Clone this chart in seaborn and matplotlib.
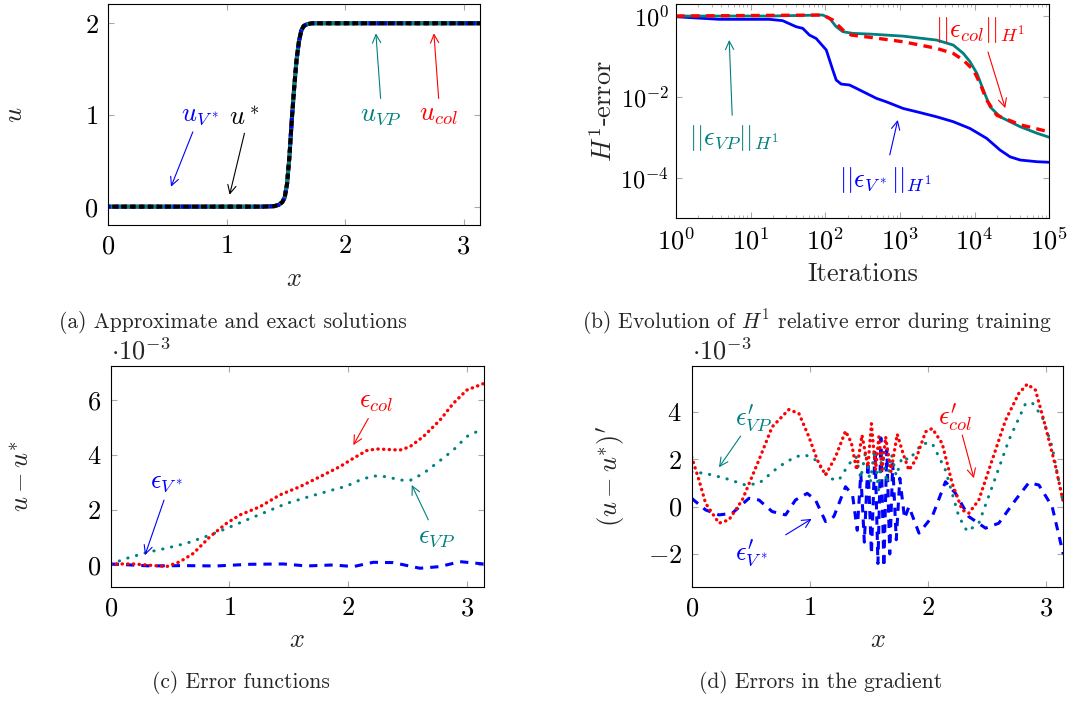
import matplotlib
matplotlib.use("Agg")
import matplotlib.pyplot as plt
import seaborn as sns

# (a) approximate and exact solutions
x_sol = [0.0, 1.30, 1.40, 1.44, 1.47, 1.49, 1.51, 1.53, 1.55, 1.57, 1.59, 1.61, 1.63, 1.65, 1.68, 1.72, 1.80, 3.1416]
u_exact = [0.0, 0.0, 0.005, 0.02, 0.05, 0.10, 0.25, 0.55, 0.95, 1.30, 1.60, 1.80, 1.92, 1.97, 1.99, 2.0, 2.0, 2.0]
u_col = list(u_exact)
u_vp = list(u_exact)
u_vstar = list(u_exact)

# (b) H1 relative error during training
it_vstar = [1, 3.8, 17.8, 26.8, 40.6, 49.9, 61.3, 75.4, 103, 126, 140, 163, 211, 260, 354, 483, 658,
            1100, 1845, 3090, 5170, 8670, 14500, 21900, 29900, 40700, 68300, 100000]
err_vstar = [0.96, 0.83, 0.83, 0.77, 0.546, 0.497, 0.34, 0.28, 0.146, 0.0468, 0.0265, 0.0211, 0.020,
             0.0166, 0.0125, 0.0094, 0.0077, 0.0053, 0.0042, 0.0033, 0.0025, 0.0017, 0.00097, 0.0005,
             0.00034, 0.000284, 0.000258, 0.00025]
it_vp = [1, 17.8, 92.6, 114, 140, 172, 234, 393, 1100, 3090, 5170, 7060, 8670, 10700, 13100, 16100,
         21900, 40700, 68300, 100000]
err_vp = [1.0, 1.0, 1.06, 0.877, 0.546, 0.411, 0.374, 0.36, 0.32, 0.256, 0.193, 0.12, 0.075, 0.039,
          0.015, 0.0058, 0.0033, 0.00188, 0.0013, 0.00103]
it_col = [1, 92.6, 126, 172, 223, 393, 1100, 3090, 5170, 7060, 9620, 11800, 14500, 19800, 40700, 100000]
err_col = [1.0, 1.06, 0.797, 0.452, 0.34, 0.30, 0.233, 0.16, 0.12, 0.082, 0.047, 0.022, 0.0085,
           0.0036, 0.0021, 0.0014]

# (c) error functions, in units of 1e-3
xc_col = [0.0, 0.19, 0.30, 0.47, 0.584, 0.696, 0.837, 0.977, 1.089, 1.258, 1.426, 1.595, 1.763, 1.932,
          2.044, 2.156, 2.24, 2.437, 2.52, 2.634, 2.774, 2.887, 2.999, 3.1416]
ec_col = [0.036, 0.036, 0.0, -0.06, 0.12, 0.42, 1.03, 1.52, 1.82, 2.12, 2.55, 2.85, 3.21, 3.58, 3.88,
          4.16, 4.22, 4.18, 4.30, 4.67, 5.27, 5.88, 6.36, 6.6]
xc_vp = [0.0, 0.135, 0.30, 0.47, 0.64, 0.837, 0.977, 1.146, 1.314, 1.483, 1.651, 1.82, 1.988, 2.10,
         2.212, 2.325, 2.437, 2.52, 2.634, 2.746, 2.887, 2.999, 3.1416]
ec_vp = [0.036, 0.24, 0.45, 0.61, 0.79, 1.09, 1.33, 1.64, 1.94, 2.24, 2.46, 2.67, 2.87, 3.09, 3.24,
         3.21, 3.09, 3.07, 3.33, 3.70, 4.18, 4.67, 4.97]
xc_vstar = [0.0, 0.331, 0.612, 0.893, 1.174, 1.454, 1.651, 1.876, 2.044, 2.212, 2.38, 2.605, 2.774,
            2.943, 3.1416]
ec_vstar = [0.036, -0.036, -0.024, -0.036, 0.024, 0.036, -0.036, 0.0, -0.06, 0.097, 0.085, -0.12,
            -0.06, 0.12, 0.036]

# (d) errors in the gradient, in units of 1e-3
xd_col = [0.0, 0.062, 0.118, 0.231, 0.315, 0.428, 0.569, 0.681, 0.822, 0.907, 0.991, 1.062, 1.132,
          1.217, 1.301, 1.35, 1.395, 1.44, 1.49, 1.52, 1.555, 1.583, 1.61, 1.64, 1.685, 1.738, 1.79,
          1.837, 1.893, 1.978, 2.034, 2.118, 2.203, 2.287, 2.343, 2.428, 2.541, 2.654, 2.766, 2.837,
          2.907, 2.992, 3.077, 3.1416]
ed_col = [2.1, 1.12, 0.14, -0.70, -0.56, 0.28, 1.97, 3.37, 4.10, 3.93, 2.95, 1.97, 1.33, 2.11, 3.19,
          2.7, 1.55, 3.02, 1.69, 3.5, 1.55, 2.95, 1.55, 2.95, 1.47, 3.06, 2.2, 1.54, 1.97, 3.16, 3.30,
          2.67, 0.98, -0.14, -0.28, 0.28, 1.97, 3.65, 4.78, 5.17, 4.92, 3.37, 1.69, 0.2]
xd_vp = [0.0, 0.118, 0.287, 0.456, 0.569, 0.738, 0.878, 0.963, 1.047, 1.16, 1.245, 1.33, 1.39, 1.43,
         1.47, 1.51, 1.545, 1.58, 1.61, 1.65, 1.69, 1.73, 1.78, 1.837, 1.95, 2.034, 2.146, 2.259, 2.33,
         2.428, 2.541, 2.682, 2.823, 2.88, 2.964, 3.048, 3.1416]
ed_vp = [1.47, 1.40, 1.19, 0.91, 0.98, 1.69, 2.11, 2.18, 1.97, 1.19, 1.12, 1.8, 2.1, 1.2, 2.3, 1.0,
         2.4, 0.7, 2.3, 1.0, 2.2, 1.3, 2.1, 1.97, 2.67, 2.67, 1.54, -0.42, -1.05, -0.70, 0.84, 2.81,
         4.35, 4.38, 3.79, 2.53, 0.1]
xd_vstar = [0.0, 0.118, 0.231, 0.343, 0.484, 0.569, 0.681, 0.794, 0.878, 0.977, 1.047, 1.132, 1.202,
            1.301, 1.36, 1.40, 1.43, 1.46, 1.49, 1.52, 1.55, 1.575, 1.60, 1.625, 1.65, 1.675, 1.70,
            1.73, 1.76, 1.80, 1.837, 1.922, 2.034, 2.146, 2.231, 2.343, 2.485, 2.597, 2.738, 2.851,
            2.936, 3.048, 3.1416]
ed_vstar = [0.35, -0.14, -0.35, -0.28, 0.35, 0.28, -0.21, -0.35, 0.28, 0.56, 0.28, -0.63, -0.42,
            0.84, 0.5, -1.0, 1.4, -1.5, 1.9, -2.0, 2.4, -2.4, 2.9, -2.55, 2.4, -2.0, 1.8, -1.4, 1.2,
            -0.5, 0.0, -1.12, -0.42, 1.05, 0.56, -0.42, -0.91, -0.70, 0.28, 1.01, 0.91, 0.0, -2.0]

BLUE = (0, 0, 1)
TEAL = (0, 0.5, 0.5)
RED = (1, 0, 0)

sns.set_style("ticks")
plt.rcParams['font.family'] = ['cmr10']
plt.rcParams['mathtext.fontset'] = 'cm'
plt.rcParams['axes.formatter.use_mathtext'] = True
plt.rcParams['axes.unicode_minus'] = True
FS = 19

fig = plt.figure(figsize=(10.73, 7.02), dpi=100)
ax_a = fig.add_axes([0.1009, 0.6795, 0.3467, 0.3144])
ax_b = fig.add_axes([0.6300, 0.6890, 0.3479, 0.3053])
ax_c = fig.add_axes([0.1032, 0.1643, 0.3475, 0.3144])
ax_d = fig.add_axes([0.6446, 0.1643, 0.3463, 0.3144])


def style_axes(ax, ysize=FS):
    for s in ax.spines.values():
        s.set_color('black')
        s.set_linewidth(0.8)
    ax.tick_params(which='both', direction='in', top=True, right=True, color='#a8a8a8',
                   labelcolor='black', labelsize=FS, pad=7)
    ax.tick_params(axis='y', labelsize=ysize)
    ax.tick_params(which='major', length=4.5, width=0.8)
    ax.tick_params(which='minor', length=2.2, width=0.6)


def arrow(ax, head, tail, color):
    ax.annotate('', xy=head, xytext=tail,
                arrowprops=dict(arrowstyle='->,head_length=0.6,head_width=0.3', color=color,
                                lw=0.8, shrinkA=0, shrinkB=0, mutation_scale=10))


def line(ax, x, y, color, lw, ls='-', cap='butt'):
    sns.lineplot(x=x, y=y, ax=ax, color=color, linewidth=lw, linestyle=ls, estimator=None,
                 errorbar=None, sort=False, legend=False, dash_capstyle=cap)


# (a)
line(ax_a, x_sol, u_col, RED, 2.9)
line(ax_a, x_sol, u_vp, TEAL, 2.9)
line(ax_a, x_sol, u_vstar, BLUE, 2.9, (0, (0.6, 1.4)))
line(ax_a, x_sol, u_exact, 'black', 2.9, (1.2, (1.4, 0.8)))
ax_a.set_xlim(0, 3.1416)
ax_a.set_ylim(-0.2, 2.207)
ax_a.set_xticks([0, 1, 2, 3])
ax_a.set_yticks([0, 1, 2])
ax_a.set_xlabel('$x$', fontsize=FS)
ax_a.set_ylabel('$u$', fontsize=FS)
ax_a.xaxis.set_label_coords(0.5, -0.19)
ax_a.yaxis.set_label_coords(-0.218, 0.5)
ax_a.text(0.773, 1.0, '$u_{V^*}$', color=BLUE, fontsize=FS, ha='center', va='center')
arrow(ax_a, (0.53, 0.217), (0.714, 0.815), BLUE)
ax_a.text(1.15, 0.97, '$u^*$', color='black', fontsize=FS, ha='center', va='center')
arrow(ax_a, (1.025, 0.13), (1.15, 0.80), 'black')
ax_a.text(2.30, 1.0, '$u_{VP}$', color=TEAL, fontsize=FS, ha='center', va='center')
arrow(ax_a, (2.26, 1.89), (2.30, 1.18), TEAL)
ax_a.text(2.79, 1.0, '$u_{col}$', color=RED, fontsize=FS, ha='center', va='center')
arrow(ax_a, (2.75, 1.89), (2.79, 1.18), RED)
style_axes(ax_a)

# (b)
ax_b.set_xscale('log')
ax_b.set_yscale('log')
line(ax_b, it_vstar, err_vstar, BLUE, 2.0)
line(ax_b, it_vp, err_vp, TEAL, 2.0)
line(ax_b, it_col, err_col, RED, 2.4, (0, (2.6, 1.9)))
ax_b.set_xlim(1, 1e5)
ax_b.set_ylim(1.04e-5, 1.98)
ax_b.set_xticks([1, 10, 100, 1e3, 1e4, 1e5])
ax_b.set_xticks([m * 10 ** d for d in range(5) for m in range(2, 10)], minor=True)
ax_b.set_yticks([1, 1e-2, 1e-4])
ax_b.set_yticks([], minor=True)
ax_b.set_xlabel('Iterations', fontsize=FS)
ax_b.set_ylabel('$H^1$-error', fontsize=FS)
ax_b.xaxis.set_label_coords(0.5, -0.205)
ax_b.yaxis.set_label_coords(-0.158, 0.5)
ax_b.text(11800, 0.45, r'$||\epsilon_{col}||_{H^1}$', color=RED, fontsize=FS, ha='center', va='center')
arrow(ax_b, (25700, 0.0054), (15100, 0.13), RED)
ax_b.text(6.0, 0.001, r'$||\epsilon_{VP}||_{H^1}$', color=TEAL, fontsize=FS, ha='center', va='center')
arrow(ax_b, (5.16, 0.257), (5.66, 0.0036), TEAL)
ax_b.text(630, 9.1e-5, r'$||\epsilon_{V^*}||_{H^1}$', color=BLUE, fontsize=FS, ha='center', va='center')
arrow(ax_b, (935, 0.00275), (730, 0.00038), BLUE)
style_axes(ax_b, ysize=17.5)
ax_b.tick_params(axis='y', pad=5)

# (c)
line(ax_c, xc_vstar, ec_vstar, BLUE, 2.2, (0, (2.7, 2.3)))
line(ax_c, xc_vp, ec_vp, TEAL, 2.2, (0, (0.1, 2.85)), 'round')
line(ax_c, xc_col, ec_col, RED, 2.4, (0, (0.1, 1.6)), 'round')
ax_c.set_xlim(0, 3.1416)
ax_c.set_ylim(-0.79, 7.24)
ax_c.set_xticks([0, 1, 2, 3])
ax_c.set_yticks([0, 2, 4, 6])
ax_c.set_xlabel('$x$', fontsize=FS)
ax_c.set_ylabel('$u - u^{*}$', fontsize=FS)
ax_c.xaxis.set_label_coords(0.5, -0.19)
ax_c.yaxis.set_label_coords(-0.207, 0.5)
ax_c.text(0.0, 1.03, r'$\cdot 10^{-3}$', transform=ax_c.transAxes, fontsize=FS, ha='left', va='baseline')
ax_c.text(2.24, 5.92, r'$\epsilon_{col}$', color=RED, fontsize=FS, ha='center', va='center')
arrow(ax_c, (2.044, 4.36), (2.17, 5.33), RED)
ax_c.text(2.746, 1.03, r'$\epsilon_{VP}$', color=TEAL, fontsize=FS, ha='center', va='center')
arrow(ax_c, (2.536, 2.91), (2.676, 1.64), TEAL)
ax_c.text(0.472, 3.03, r'$\epsilon_{V^*}$', color=BLUE, fontsize=FS, ha='center', va='center')
arrow(ax_c, (0.289, 0.36), (0.449, 2.36), BLUE)
style_axes(ax_c)

# (d)
line(ax_d, xd_vstar, ed_vstar, BLUE, 2.2, (0, (2.7, 2.3)))
line(ax_d, xd_vp, ed_vp, TEAL, 2.2, (0, (0.1, 2.85)), 'round')
line(ax_d, xd_col, ed_col, RED, 2.4, (0, (0.1, 1.6)), 'round')
ax_d.set_xlim(0, 3.1416)
ax_d.set_ylim(-3.38, 5.94)
ax_d.set_xticks([0, 1, 2, 3])
ax_d.set_yticks([-2, 0, 2, 4])
ax_d.set_xlabel('$x$', fontsize=FS)
ax_d.set_ylabel("$(u - u^{*})'$", fontsize=FS)
ax_d.xaxis.set_label_coords(0.5, -0.19)
ax_d.yaxis.set_label_coords(-0.174, 0.5)
ax_d.text(0.0, 1.03, r'$\cdot 10^{-3}$', transform=ax_d.transAxes, fontsize=FS, ha='left', va='baseline')
ax_d.text(0.527, 3.73, r"$\epsilon_{VP}^{\prime}$", color=TEAL, fontsize=FS, ha='center', va='center')
arrow(ax_d, (0.231, 1.66), (0.414, 2.98), TEAL)
ax_d.text(2.232, 3.73, r"$\epsilon_{col}^{\prime}$", color=RED, fontsize=FS, ha='center', va='center')
arrow(ax_d, (2.386, 1.20), (2.288, 3.02), RED)
ax_d.text(0.512, -1.97, r"$\epsilon_{V^*}^{\prime}$", color=BLUE, fontsize=FS, ha='center', va='center')
arrow(ax_d, (1.014, -0.52), (0.795, -1.19), BLUE)
style_axes(ax_d)

# captions
fig.text(233 / 1073, 1 - 322 / 702, '(a) Approximate and exact solutions', fontsize=15.5, ha='center', va='center')
fig.text(817 / 1073, 1 - 322 / 702, '(b) Evolution of $H^1$ relative error during training', fontsize=15.5,
         ha='center', va='center')
fig.text(241 / 1073, 1 - 683 / 702, '(c) Error functions', fontsize=15.5, ha='center', va='center')
fig.text(821 / 1073, 1 - 683 / 702, '(d) Errors in the gradient', fontsize=15.5, ha='center', va='center')

fig.savefig('out.png', dpi=100)
